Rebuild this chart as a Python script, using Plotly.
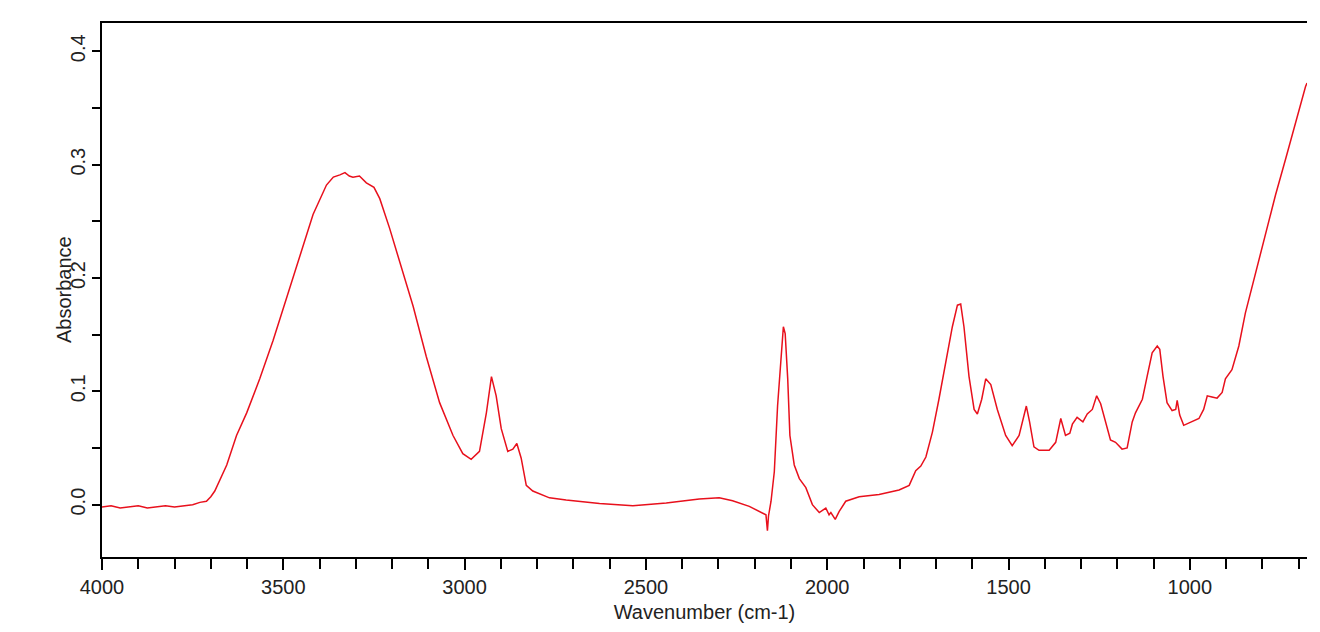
import plotly.graph_objects as go

wavenumber = [
    4000, 3975, 3950, 3925, 3900, 3875, 3850, 3825, 3800, 3775, 3750, 3730, 3712, 3700,
    3689, 3656, 3629, 3601, 3565, 3528, 3491, 3455, 3418, 3381, 3362, 3344, 3330, 3318,
    3308, 3290, 3271, 3250, 3234, 3207, 3179, 3142, 3106, 3069, 3032, 3005, 2982, 2959,
    2940, 2926, 2913, 2899, 2881, 2867, 2856, 2844, 2830, 2812, 2766, 2720, 2628, 2536,
    2444, 2353, 2298, 2261, 2215, 2187, 2169, 2165, 2162, 2155, 2146, 2137, 2128, 2121,
    2116, 2109, 2103, 2091, 2077, 2059, 2041, 2022, 2004, 1995, 1990, 1978, 1967, 1949,
    1912, 1857, 1802, 1774, 1756, 1742, 1728, 1710, 1692, 1673, 1655, 1641, 1632, 1623,
    1609, 1595, 1586, 1574, 1563, 1549, 1531, 1508, 1490, 1471, 1460, 1451, 1442, 1430,
    1416, 1388, 1370, 1356, 1343, 1331, 1324, 1311, 1295, 1283, 1269, 1257, 1246, 1237,
    1219, 1205, 1187, 1173, 1159, 1150, 1131, 1118, 1104, 1090, 1083, 1074, 1063, 1049,
    1039, 1035, 1028, 1017, 998, 975, 962, 952, 939, 925, 911, 902, 884, 865,
    847, 819, 792, 764, 736, 709, 681, 677,
]
absorbance = [
    -0.002, -0.001, -0.003, -0.002, -0.001, -0.003, -0.002, -0.001, -0.002, -0.001, 0.000, 0.002, 0.003, 0.007,
    0.012, 0.035, 0.061, 0.081, 0.111, 0.145, 0.183, 0.218, 0.256, 0.282, 0.289, 0.291, 0.293, 0.290,
    0.289, 0.290, 0.284, 0.280, 0.270, 0.244, 0.215, 0.175, 0.131, 0.090, 0.061, 0.045, 0.040, 0.047,
    0.081, 0.113, 0.096, 0.067, 0.047, 0.049, 0.054, 0.041, 0.017, 0.012, 0.006, 0.004, 0.001, -0.001,
    0.0015, 0.005, 0.006, 0.0035, -0.0015, -0.006, -0.009, -0.023, -0.010, 0.003, 0.029, 0.087, 0.125, 0.157,
    0.151, 0.111, 0.061, 0.035, 0.023, 0.015, 0.000, -0.007, -0.003, -0.009, -0.007, -0.013, -0.006, 0.003,
    0.007, 0.009, 0.013, 0.017, 0.030, 0.034, 0.042, 0.064, 0.093, 0.125, 0.157, 0.176, 0.177, 0.157,
    0.113, 0.084, 0.080, 0.093, 0.111, 0.106, 0.084, 0.061, 0.052, 0.061, 0.076, 0.087, 0.073, 0.051,
    0.048, 0.048, 0.055, 0.076, 0.061, 0.063, 0.071, 0.077, 0.073, 0.080, 0.084, 0.096, 0.089, 0.079,
    0.057, 0.055, 0.049, 0.050, 0.073, 0.081, 0.093, 0.113, 0.134, 0.140, 0.137, 0.113, 0.090, 0.083,
    0.084, 0.092, 0.079, 0.070, 0.073, 0.076, 0.084, 0.096, 0.095, 0.094, 0.099, 0.111, 0.119, 0.140,
    0.169, 0.204, 0.238, 0.273, 0.305, 0.337, 0.369, 0.372,
]

x_tickvals = [4000, 3500, 3000, 2500, 2000, 1500, 1000]
x_ticktext = ["4000", "3500", "3000", "2500", "2000", "1500", "1000"]
y_tickvals = [0.0, 0.1, 0.2, 0.3, 0.4]
y_ticktext = ["0.0", "0.1", "0.2", "0.3", "0.4"]

fig = go.Figure()
fig.add_trace(go.Scatter(
    x=wavenumber, y=absorbance, mode="lines",
    line=dict(color="#e8101c", width=1.5), showlegend=False,
))

font_main = dict(family="Liberation Sans, Arial, sans-serif", size=20, color="#222222")

fig.update_layout(
    width=1320, height=632,
    margin=dict(l=102, r=13, t=23, b=69),
    paper_bgcolor="white", plot_bgcolor="white",
    font=font_main,
    xaxis=dict(
        range=[4000, 677], autorange=False,
        tickvals=x_tickvals, ticktext=x_ticktext,
        ticks="outside", ticklen=11, tickwidth=1.6, tickcolor="black",
        minor=dict(dtick=100, tick0=0, ticks="outside", ticklen=10, tickwidth=1.6, tickcolor="black", showgrid=False),
        showline=True, linecolor="black", linewidth=2, mirror=True,
        showgrid=False, zeroline=False,
        title=dict(text="Wavenumber (cm-1)", font=font_main, standoff=8),
        tickfont=font_main,
    ),
    yaxis=dict(
        range=[-0.0462, 0.425], autorange=False,
        tickvals=y_tickvals, ticktext=y_ticktext,
        tickangle=-90,
        ticks="outside", ticklen=7, tickwidth=1.6, tickcolor="black",
        minor=dict(dtick=0.05, tick0=0, ticks="outside", ticklen=8, tickwidth=1.6, tickcolor="black", showgrid=False),
        showline=True, linecolor="black", linewidth=2, mirror=False,
        showgrid=False, zeroline=False,
        tickfont=font_main,
    ),
    annotations=[dict(
        text="Absorbance", textangle=-90,
        xref="paper", yref="paper", x=0, y=0.5,
        xanchor="center", yanchor="middle", xshift=-38,
        showarrow=False, font=font_main,
    )],
)

fig.write_html("out.html")
